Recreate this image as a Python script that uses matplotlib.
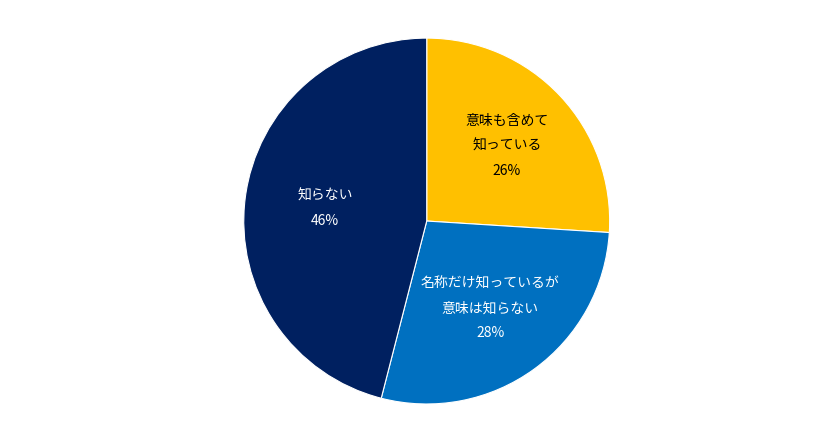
import matplotlib
matplotlib.use("Agg")
import matplotlib.pyplot as plt

plt.rcParams['font.family'] = ['Noto Sans CJK JP', 'DejaVu Sans']

labels = ["意味も含めて\n知っている", "名称だけ知っているが\n意味は知らない", "知らない"]
values = [26, 28, 46]
colors = ["#FFC000", "#0070C0", "#002060"]
text_colors = ["black", "white", "white"]

fig = plt.figure(figsize=(8.4, 4.33), dpi=100)
ax = fig.add_axes([0.290, 0.067, 0.436, 0.845])
wedges, _ = ax.pie(values, colors=colors, startangle=90, counterclock=False,
                   radius=1, wedgeprops=dict(edgecolor="white", linewidth=0.8))

import numpy as np
dists = [0.6, 0.59, 0.56]
for w, lab, v, tc, d in zip(wedges, labels, values, text_colors, dists):
    ang = np.deg2rad((w.theta1 + w.theta2) / 2)
    ax.text(d * np.cos(ang), d * np.sin(ang), f"{lab}\n{v}%", ha="center", va="center",
            color=tc, fontsize=10, linespacing=2.0)

ax.set_xlim(-1, 1)
ax.set_ylim(-1, 1)
ax.set_aspect("equal")
ax.axis("off")
fig.savefig("out.png", dpi=100)
